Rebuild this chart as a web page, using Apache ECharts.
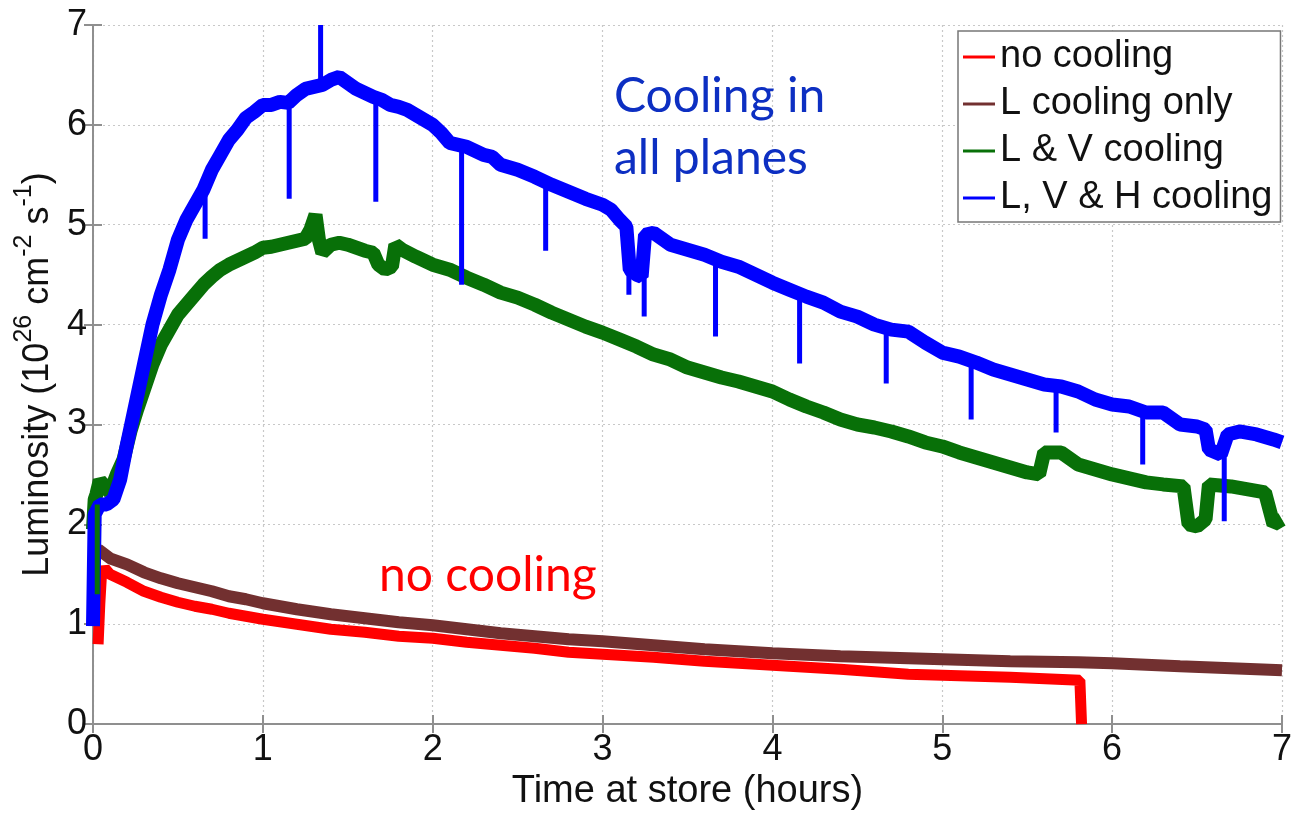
<!DOCTYPE html>
<html>
<head>
<meta charset="utf-8">
<script src="https://cdn.jsdelivr.net/npm/echarts@6/dist/echarts.min.js"></script>
<style>
html,body{margin:0;padding:0;background:#fff;}
#chart{width:1295px;height:816px;}
</style>
</head>
<body>
<div id="chart"></div>
<script>
// ---- data (hours, luminosity in 1e26 cm^-2 s^-1) ----
const seriesNames = ['no cooling', 'L cooling only', 'L & V cooling', 'L, V & H cooling'];
const xTicks = [0, 1, 2, 3, 4, 5, 6, 7];
const yTicks = [0, 1, 2, 3, 4, 5, 6, 7];

const noCooling = [
  [0.03,0.8],[0.04,1.2],[0.05,1.5],[0.07,1.56],[0.1,1.5],[0.2,1.42],[0.3,1.33],[0.4,1.27],
  [0.5,1.22],[0.6,1.18],[0.7,1.15],[0.8,1.11],[0.9,1.08],[1.0,1.05],[1.2,1.0],[1.4,0.95],
  [1.6,0.92],[1.8,0.88],[2.0,0.86],[2.2,0.82],[2.4,0.79],[2.6,0.76],[2.8,0.72],[3.0,0.7],
  [3.3,0.67],[3.6,0.63],[4.0,0.59],[4.4,0.55],[4.8,0.5],[5.0,0.49],[5.4,0.47],[5.81,0.44],[5.82,0.0]
];
const lCooling = [
  [0.03,1.75],[0.1,1.66],[0.2,1.6],[0.3,1.52],[0.4,1.46],[0.5,1.41],[0.6,1.37],[0.7,1.33],
  [0.8,1.28],[0.9,1.25],[1.0,1.21],[1.2,1.15],[1.4,1.1],[1.6,1.06],[1.8,1.02],[2.0,0.99],
  [2.2,0.95],[2.4,0.91],[2.6,0.88],[2.8,0.85],[3.0,0.83],[3.3,0.79],[3.6,0.75],[4.0,0.71],
  [4.4,0.68],[4.8,0.66],[5.0,0.65],[5.4,0.63],[5.8,0.62],[6.0,0.61],[6.4,0.58],[6.7,0.56],[7.0,0.54]
];
const lvCooling = [
  [0.0,1.95],[0.01,2.25],[0.02,2.3],[0.04,2.44],[0.07,2.38],[0.1,2.32],[0.14,2.5],[0.18,2.65],
  [0.22,2.93],[0.26,3.15],[0.3,3.35],[0.35,3.6],[0.4,3.8],[0.45,3.95],[0.5,4.1],[0.55,4.2],
  [0.6,4.3],[0.65,4.4],[0.7,4.48],[0.75,4.55],[0.8,4.6],[0.85,4.64],[0.9,4.68],[0.95,4.72],
  [1.0,4.77],[1.05,4.78],[1.1,4.8],[1.15,4.82],[1.2,4.84],[1.25,4.86],[1.28,4.95],[1.31,5.1],
  [1.33,4.85],[1.35,4.72],[1.4,4.8],[1.45,4.82],[1.5,4.8],[1.55,4.77],[1.6,4.74],[1.65,4.72],
  [1.68,4.6],[1.72,4.55],[1.76,4.58],[1.78,4.8],[1.82,4.75],[1.9,4.68],[2.0,4.6],[2.1,4.55],
  [2.2,4.47],[2.3,4.4],[2.4,4.32],[2.5,4.27],[2.6,4.2],[2.7,4.12],[2.8,4.05],[2.9,3.98],
  [3.0,3.92],[3.1,3.85],[3.2,3.78],[3.3,3.7],[3.4,3.65],[3.5,3.57],[3.6,3.52],[3.7,3.47],
  [3.8,3.43],[3.9,3.38],[4.0,3.33],[4.1,3.25],[4.2,3.18],[4.3,3.12],[4.4,3.05],[4.5,3.0],
  [4.6,2.97],[4.7,2.93],[4.8,2.88],[4.9,2.82],[5.0,2.78],[5.1,2.72],[5.2,2.67],[5.3,2.62],
  [5.4,2.57],[5.5,2.52],[5.57,2.5],[5.6,2.72],[5.7,2.72],[5.8,2.6],[5.9,2.55],[6.0,2.5],
  [6.1,2.46],[6.2,2.42],[6.3,2.4],[6.42,2.38],[6.45,2.0],[6.5,1.98],[6.55,2.05],[6.57,2.4],
  [6.7,2.38],[6.8,2.35],[6.9,2.32],[6.95,2.0],[7.0,2.05]
];
const lvhCooling = [
  [0.0,0.98],[0.01,2.1],[0.04,2.2],[0.08,2.2],[0.12,2.25],[0.16,2.45],[0.2,2.8],[0.25,3.2],
  [0.3,3.6],[0.35,4.0],[0.4,4.3],[0.45,4.55],[0.5,4.85],[0.55,5.05],[0.6,5.2],[0.65,5.35],
  [0.7,5.55],[0.75,5.7],[0.8,5.85],[0.85,5.95],[0.9,6.07],[0.95,6.13],[1.0,6.2],[1.05,6.2],
  [1.1,6.23],[1.15,6.22],[1.2,6.3],[1.25,6.36],[1.3,6.38],[1.35,6.4],[1.4,6.45],[1.45,6.48],
  [1.5,6.42],[1.55,6.36],[1.6,6.32],[1.65,6.28],[1.7,6.25],[1.75,6.2],[1.8,6.18],[1.85,6.15],
  [1.9,6.1],[1.95,6.05],[2.0,6.0],[2.05,5.92],[2.1,5.82],[2.15,5.8],[2.2,5.78],[2.25,5.74],
  [2.3,5.7],[2.35,5.68],[2.4,5.6],[2.5,5.55],[2.6,5.48],[2.7,5.4],[2.8,5.33],[2.9,5.26],
  [3.0,5.2],[3.05,5.15],[3.1,5.05],[3.14,4.98],[3.16,4.55],[3.2,4.5],[3.23,4.48],[3.25,4.9],
  [3.3,4.92],[3.4,4.8],[3.5,4.75],[3.6,4.7],[3.7,4.63],[3.8,4.58],[3.9,4.5],[4.0,4.42],
  [4.1,4.35],[4.2,4.28],[4.3,4.22],[4.4,4.13],[4.5,4.08],[4.6,4.0],[4.7,3.95],[4.8,3.93],
  [4.9,3.82],[5.0,3.72],[5.1,3.68],[5.2,3.62],[5.3,3.55],[5.4,3.5],[5.5,3.45],[5.6,3.4],
  [5.7,3.38],[5.8,3.33],[5.9,3.25],[6.0,3.2],[6.1,3.18],[6.2,3.12],[6.3,3.12],[6.4,3.0],
  [6.5,2.98],[6.55,2.95],[6.57,2.75],[6.64,2.7],[6.68,2.9],[6.75,2.93],[6.85,2.9],[6.95,2.85],[7.0,2.82]
];
// narrow spikes: [time, level before spike, spike extreme]
const lvhSpikes = [
  [0.66,5.35,4.86],[1.155,6.2,5.26],[1.34,6.4,7.0],[1.665,6.28,5.23],[2.17,5.8,4.4],
  [2.665,5.45,4.74],[3.155,4.9,4.3],[3.245,4.5,4.08],[3.665,4.66,3.88],[4.16,4.3,3.61],
  [4.67,3.97,3.41],[5.17,3.64,3.05],[5.67,3.38,2.92],[6.18,3.13,2.6],[6.66,2.72,2.03]
];
const lvSpikes = [[0.025,2.2,1.3]];

const colors = ['#ff0000', '#723030', '#087008', '#0000ff'];
const annotationBlue = '#0d2fc2';

const chart = echarts.init(document.getElementById('chart'), null, {renderer: 'canvas'});
const FONT = 'Liberation Sans, Arial, sans-serif';
const ANNO_FONT = 'Lato, Carlito, sans-serif';

function band(name, data, color, width) {
  return {
    name: name, type: 'line', data: data, symbol: 'none', showSymbol: false,
    lineStyle: {color: color, width: width, join: 'bevel'}, itemStyle: {color: color},
    emphasis: {disabled: true}, z: 2
  };
}
function spikeSeries(spikes, color) {
  return spikes.map(s => ({
    type: 'line', data: [[s[0], s[1]], [s[0], s[2]]], symbol: 'none', showSymbol: false,
    lineStyle: {color: color, width: 5}, emphasis: {disabled: true}, z: 3
  }));
}

const axisLineStyle = {color: '#8f8f8f', width: 2};
const gridLineStyle = {type: [2, 3], color: '#c8c8c8', width: 1.2};
const option = {
  animation: false,
  grid: {left: 93, right: 12, top: 25, bottom: 80, containLabel: false},
  legend: {
    data: seriesNames, orient: 'vertical', left: 958, top: 31,
    backgroundColor: '#fff', borderColor: '#777', borderWidth: 1.5,
    padding: [7, 8, 5, 5], itemWidth: 32, itemHeight: 3, itemGap: 9, icon: 'rect',
    textStyle: {fontSize: 38, lineHeight: 38, color: '#111', fontFamily: FONT}
  },
  xAxis: [{
    type: 'value', min: 0, max: 7, interval: 1, position: 'bottom',
    axisLine: {show: true, lineStyle: axisLineStyle},
    axisTick: {show: true, inside: true, length: 9, lineStyle: axisLineStyle},
    splitLine: {show: true, lineStyle: gridLineStyle},
    axisLabel: {fontSize: 36, color: '#111', margin: 8, fontFamily: FONT,
      formatter: v => xTicks.includes(v) ? String(v) : ''},
    name: 'Time at store (hours)', nameLocation: 'middle', nameGap: 43,
    nameTextStyle: {fontSize: 38, color: '#111', fontFamily: FONT}
  }, {
    type: 'value', min: 0, max: 7, interval: 1, position: 'top',
    axisLine: {show: true, lineStyle: axisLineStyle},
    axisTick: {show: true, inside: true, length: 9, lineStyle: axisLineStyle},
    axisLabel: {show: false}, splitLine: {show: false}
  }],
  yAxis: [{
    type: 'value', min: 0, max: 7, interval: 1, position: 'left',
    axisLine: {show: true, lineStyle: axisLineStyle},
    axisTick: {show: true, inside: true, length: 9, lineStyle: axisLineStyle},
    splitLine: {show: true, lineStyle: gridLineStyle},
    axisLabel: {fontSize: 36, color: '#111', margin: 6, fontFamily: FONT,
      formatter: v => yTicks.includes(v) ? String(v) : ''},
    name: '{a|Luminosity (10}{s|26}{a| cm}{s|-2}{a| s}{s|-1}{a|)}',
    nameLocation: 'middle', nameGap: 23, nameRotate: 90,
    nameTextStyle: {
      color: '#111', fontFamily: FONT,
      rich: {
        a: {fontSize: 36, color: '#111', fontFamily: FONT, verticalAlign: 'bottom', lineHeight: 44},
        s: {fontSize: 25, color: '#111', fontFamily: FONT, verticalAlign: 'top', lineHeight: 44}
      }
    }
  }, {
    type: 'value', min: 0, max: 7, interval: 1, position: 'right',
    axisLine: {show: true, lineStyle: axisLineStyle},
    axisTick: {show: true, inside: true, length: 9, lineStyle: axisLineStyle},
    axisLabel: {show: false}, splitLine: {show: false}
  }],
  series: [
    band(seriesNames[0], noCooling, colors[0], 11),
    band(seriesNames[1], lCooling, colors[1], 12),
    band(seriesNames[2], lvCooling, colors[2], 14),
    ...spikeSeries(lvSpikes, colors[2]),
    band(seriesNames[3], lvhCooling, colors[3], 14),
    ...spikeSeries(lvhSpikes, colors[3])
  ],
  graphic: [
    {type: 'text', left: 614, top: 66, z: 10,
      style: {text: 'Cooling in\nall planes', fontSize: 48, lineHeight: 62, fill: annotationBlue,
        fontFamily: ANNO_FONT}},
    {type: 'text', left: 379, top: 552, z: 10,
      style: {text: 'no cooling', fontSize: 48, fill: '#ff0000', fontFamily: ANNO_FONT}}
  ]
};
chart.setOption(option);
</script>
</body>
</html>
